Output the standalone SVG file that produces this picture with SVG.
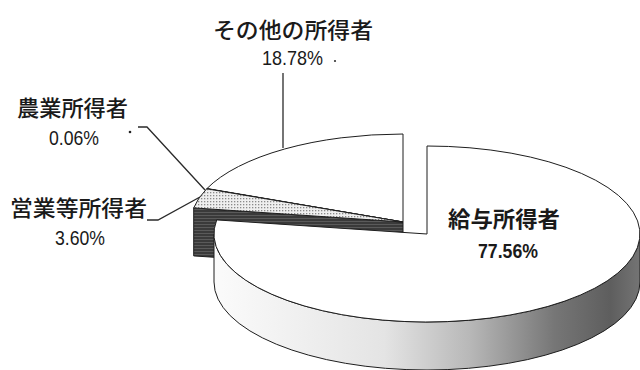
<svg xmlns="http://www.w3.org/2000/svg" width="640" height="370" viewBox="0 0 640 370">
<style>
.edge{stroke:#1e1e1e;stroke-width:1;stroke-linejoin:round}
.lbl{font-family:"Liberation Sans","Noto Sans CJK JP",sans-serif;fill:#1a1a1a}
.jp{font-size:22px;font-weight:500}
.num{font-size:21px}
.b{font-weight:bold}
.lead{fill:none;stroke:#2a2a2a;stroke-width:1.3}
</style>
<defs>
<pattern id="dots" width="3" height="3" patternUnits="userSpaceOnUse">
<rect width="3" height="3" fill="#efefef"/>
<rect x="0" y="0" width="1.3" height="1.3" fill="#8a8a8a"/>
</pattern>
<pattern id="hlines" width="4" height="3" patternUnits="userSpaceOnUse">
<rect width="4" height="3" fill="#3a3a3a"/>
<rect y="2" width="4" height="1" fill="#5a5a5a"/>
</pattern>
<linearGradient id="wall" gradientUnits="userSpaceOnUse" x1="214" y1="0" x2="640" y2="0">
<stop offset="0" stop-color="#fbfbfb"/>
<stop offset="0.4" stop-color="#e4e4e4"/>
<stop offset="0.6" stop-color="#b8b8b8"/>
<stop offset="0.8" stop-color="#767676"/>
<stop offset="0.93" stop-color="#5e5e5e"/>
<stop offset="1" stop-color="#747474"/>
</linearGradient>
</defs>

<g id="slice-sonota">
<path class="edge" fill="#ffffff" d="M403,222 L206.7,188.8 A212,88 0 0 1 403,134 Z"/>
<text class="lbl jp" x="213" y="38" textLength="160" lengthAdjust="spacingAndGlyphs">その他の所得者</text>
<text class="lbl num" x="262" y="65" textLength="61" lengthAdjust="spacingAndGlyphs">18.78%</text>
<circle cx="335" cy="61" r="1.1" fill="#333"/>
</g>

<g id="slice-nogyo">
<path class="edge" fill="#dcdcdc" d="M403,222 L207,188.5 L206.7,188.8 Z"/>
<text class="lbl jp" x="17" y="115.5" textLength="111" lengthAdjust="spacingAndGlyphs">農業所得者</text>
<text class="lbl num" x="49" y="145" textLength="50" lengthAdjust="spacingAndGlyphs">0.06%</text>
<circle cx="130" cy="132" r="1.3" fill="#222"/>
</g>

<g id="slice-eigyo">
<path class="edge" fill="url(#hlines)" d="M403,222 L193.7,207.9 L193.7,255.9 L403,270 Z"/>
<path class="edge" fill="url(#dots)" d="M403,222 L193.7,207.9 A212,88 0 0 1 206.7,188.8 Z"/>
<text class="lbl jp" x="10" y="215.5" textLength="137" lengthAdjust="spacingAndGlyphs">営業等所得者</text>
<text class="lbl num" x="55" y="245" textLength="50" lengthAdjust="spacingAndGlyphs">3.60%</text>
</g>

<g id="slice-kyuyo">
<path class="edge" fill="url(#wall)" d="M640,234 A213,88 0 0 1 214,234 L214,282 A213,88 0 0 0 640,282 Z"/>
<path class="edge" fill="#ffffff" d="M427,234 L427,146 A213,88 0 1 1 216.7,219.9 Z"/>
<text class="lbl jp b" x="448" y="226.5" textLength="112" lengthAdjust="spacingAndGlyphs">給与所得者</text>
<text class="lbl num b" x="478" y="258" textLength="60" lengthAdjust="spacingAndGlyphs">77.56%</text>
</g>

<g id="connectors">
<path class="lead" d="M283,73 V148"/>
<path class="lead" d="M138,127 H147 L205,190"/>
<path class="lead" d="M147,220 H158 L200,197"/>
</g>
</svg>
